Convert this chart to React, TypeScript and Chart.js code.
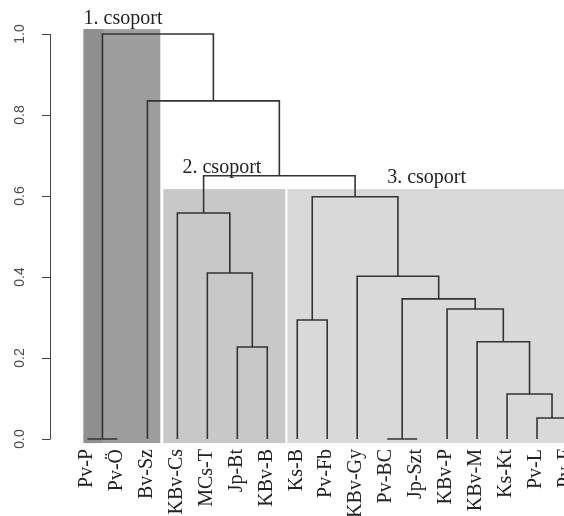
import React, { useEffect, useRef } from 'react';
import { Chart, registerables } from 'chart.js';

Chart.register(...registerables);

// leaves in dendrogram order
const leaves = ['Pv-P', 'Pv-Ö', 'Bv-Sz', 'KBv-Cs', 'MCs-T', 'Jp-Bt', 'KBv-B', 'Ks-B', 'Pv-Fb', 'KBv-Gy', 'Pv-BC', 'Jp-Szt', 'KBv-P', 'KBv-M', 'Ks-Kt', 'Pv-L', 'Pv-F'];

// merge steps: a child is a leaf name or 'm<n>' for the n-th earlier merge
const mergeLeft = ['Pv-P', 'Pv-BC', 'Pv-L', 'Ks-Kt', 'Jp-Bt', 'KBv-M', 'Ks-B', 'KBv-P', 'm2', 'KBv-Gy', 'MCs-T', 'KBv-Cs', 'm7', 'm12', 'Bv-Sz', 'm1'];
const mergeRight = ['Pv-Ö', 'Jp-Szt', 'Pv-F', 'm3', 'KBv-B', 'm4', 'Pv-Fb', 'm6', 'm8', 'm9', 'm5', 'm11', 'm10', 'm13', 'm14', 'm15'];
const mergeHeight = [0, 0, 0.052, 0.111, 0.227, 0.24, 0.294, 0.321, 0.346, 0.402, 0.41, 0.558, 0.598, 0.65, 0.835, 1.0];

const yTicks = [0, 0.2, 0.4, 0.6, 0.8, 1.0];

// groups: shaded leaf ranges and their top heights
const groupNames = ['1. csoport', '2. csoport', '3. csoport'];
const groupFrom = [-0.13, 2.53, 6.67];
const groupTo = [2.43, 6.6, 16.5];
const groupTop = [1.012, 0.617, 0.617];

const groupFill = ['#9d9d9d', '#c8c8c8', '#d9d9d9'];
const labelAt = [
    { x: -0.13, y: 1.025 },
    { x: 3.17, y: 0.657 },
    { x: 10.0, y: 0.632 },
];

const lineColor = '#333';
const serif = '"Liberation Serif", "Times New Roman", serif';
const sans = '"Liberation Sans", Arial, sans-serif';

// node positions from the merge table
const nodeX: Record<string, number> = {};
const nodeY: Record<string, number> = {};
leaves.forEach((l, i) => { nodeX[l] = i; nodeY[l] = 0; });
mergeHeight.forEach((h, k) => {
    nodeX['m' + (k + 1)] = (nodeX[mergeLeft[k]] + nodeX[mergeRight[k]]) / 2;
    nodeY['m' + (k + 1)] = h;
});

const dendroPlugin = {
    id: 'dendro',
    beforeDatasetsDraw(chart: Chart) {
        const { ctx, scales } = chart;
        const x = scales.x, y = scales.y;
        ctx.save();
        groupNames.forEach((_, g) => {
            const x0 = x.getPixelForValue(groupFrom[g]);
            const x1 = x.getPixelForValue(groupTo[g]);
            const y0 = y.getPixelForValue(groupTop[g]);
            const y1 = y.getPixelForValue(-0.01);
            ctx.fillStyle = groupFill[g];
            ctx.fillRect(x0, y0, x1 - x0, y1 - y0);
        });
        // darker strip left of the first merge
        const s0 = x.getPixelForValue(groupFrom[0]);
        const s1 = x.getPixelForValue(nodeX['m1']);
        ctx.fillStyle = '#8f8f8f';
        ctx.fillRect(s0, y.getPixelForValue(groupTop[0]), s1 - s0, y.getPixelForValue(-0.01) - y.getPixelForValue(groupTop[0]));
        ctx.restore();
    },
    afterDatasetsDraw(chart: Chart) {
        const { ctx, scales } = chart;
        const x = scales.x, y = scales.y;
        ctx.save();

        // y axis
        const ax = 50;
        ctx.strokeStyle = '#444';
        ctx.lineWidth = 1;
        ctx.beginPath();
        ctx.moveTo(ax + 0.5, y.getPixelForValue(0));
        ctx.lineTo(ax + 0.5, y.getPixelForValue(1));
        yTicks.forEach(t => {
            const py = Math.round(y.getPixelForValue(t)) + 0.5;
            ctx.moveTo(ax + 0.5, py);
            ctx.lineTo(ax - 8, py);
        });
        ctx.stroke();
        ctx.fillStyle = '#4a4a4a';
        ctx.font = `14px ${sans}`;
        ctx.textAlign = 'center';
        ctx.textBaseline = 'middle';
        yTicks.forEach(t => {
            ctx.save();
            ctx.translate(20, y.getPixelForValue(t));
            ctx.rotate(-Math.PI / 2);
            ctx.fillText(t.toFixed(1), 0, 0);
            ctx.restore();
        });

        // leaf labels
        ctx.fillStyle = '#222';
        ctx.font = `20px ${serif}`;
        ctx.textAlign = 'right';
        leaves.forEach((l, i) => {
            ctx.save();
            ctx.translate(x.getPixelForValue(i) - 1, 449);
            ctx.rotate(-Math.PI / 2);
            ctx.fillText(l, 0, 0);
            ctx.restore();
        });

        // group titles
        ctx.textAlign = 'left';
        ctx.textBaseline = 'alphabetic';
        groupNames.forEach((n, g) => {
            ctx.fillText(n, x.getPixelForValue(labelAt[g].x), y.getPixelForValue(labelAt[g].y));
        });
        ctx.restore();
    },
};

const App: React.FC = () => {
    const canvasRef = useRef<HTMLCanvasElement>(null);

    useEffect(() => {
        document.body.style.margin = '0';
        if (!canvasRef.current) return;

        const datasets = mergeHeight.map((h, k) => {
            const a = mergeLeft[k], b = mergeRight[k];
            return {
                data: [
                    { x: nodeX[a], y: nodeY[a] },
                    { x: nodeX[a], y: h },
                    { x: nodeX[b], y: h },
                    { x: nodeX[b], y: nodeY[b] },
                ],
                borderColor: lineColor,
                borderWidth: 1.6,
                pointRadius: 0,
                tension: 0,
                fill: false,
            };
        });

        const chart = new Chart(canvasRef.current, {
            type: 'line',
            data: { datasets },
            options: {
                animation: false,
                responsive: true,
                maintainAspectRatio: false,
                layout: { padding: { left: 50, right: 0, top: 13.75, bottom: 68.9 } },
                plugins: { legend: { display: false }, tooltip: { enabled: false } },
                scales: {
                    x: { type: 'linear', min: -1.25, max: 15.9, display: false },
                    y: { type: 'linear', min: -0.02, max: 1.05, display: false },
                },
            },
            plugins: [dendroPlugin],
        });

        return () => chart.destroy();
    }, []);

    return (
        <div style={{ width: 564, height: 516, position: 'relative', background: '#fff' }}>
            <canvas ref={canvasRef}></canvas>
        </div>
    );
};

export default App;
